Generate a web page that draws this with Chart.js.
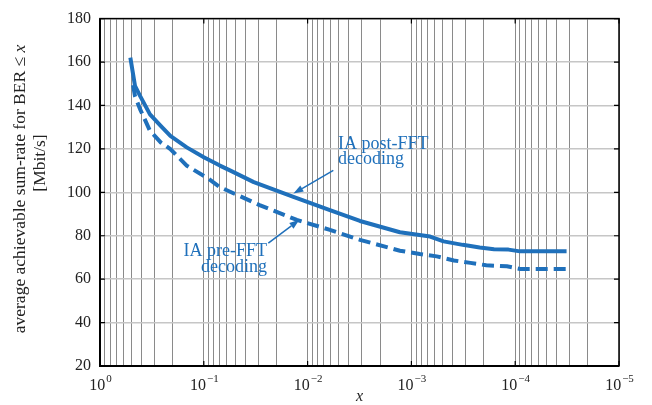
<!DOCTYPE html>
<html><head><meta charset="utf-8">
<script src="https://cdn.jsdelivr.net/npm/chart.js@4/dist/chart.umd.min.js"></script>
<style>html,body{margin:0;padding:0;background:#fff}#wrap{width:652px;height:405px}</style>
</head><body><div id="wrap"><canvas id="c" width="652" height="405"></canvas></div>
<script>
// ---- data ----
const postX = [0.51, 0.46, 0.41, 0.33, 0.26, 0.21, 0.146, 0.1, 0.07, 0.056, 0.033, 0.0137, 0.0061, 0.00313, 0.00129, 6.6e-4, 4.9e-4, 3.2e-4, 2.2e-4, 1.6e-4, 1.16e-4, 9e-5, 3.2e-5];
const postY = [162, 149, 144.3, 135.9, 130.6, 126, 120.7, 116.1, 112.3, 110.1, 104.7, 97.9, 91.8, 86.8, 81.6, 79.6, 77.4, 75.8, 74.6, 73.8, 73.6, 72.8, 72.8];
const preX = [0.48, 0.46, 0.41, 0.33, 0.26, 0.21, 0.146, 0.09, 0.07, 0.029, 0.0127, 0.0061, 0.00313, 0.00129, 8.3e-4, 5.7e-4, 3.9e-4, 2.7e-4, 1.9e-4, 1.2e-4, 9e-5, 3.2e-5];
const preY = [149.4, 144.3, 138.2, 128.3, 123, 119.9, 112.3, 106.2, 102.4, 94.1, 87.3, 82.7, 78.1, 73.1, 71.6, 70.5, 68.6, 67.5, 66.4, 65.9, 64.7, 64.7];
const yTicks = [20, 40, 60, 80, 100, 120, 140, 160, 180];
const xDecades = [1, 0.1, 0.01, 0.001, 1e-4, 1e-5];
const xExponents = ['0', '\u22121', '\u22122', '\u22123', '\u22124', '\u22125'];
const seriesNames = ['IA post-FFT decoding', 'IA pre-FFT decoding'];
const postLabel = ['IA post-FFT', 'decoding'];
const preLabel = ['IA pre-FFT', 'decoding'];
const yTitle1 = 'average achievable sum-rate for BER \u2264 ';
const yTitle2 = '[Mbit/s]';
const xTitle = 'x';
// annotation anchors in data coordinates
const postArrow = {tail: [0.00565, 110.1], tip: [0.0137, 99.4]};
const postText = {x: 0.00509, y: [122.3, 115.2]};
const preArrow = {tail: [0.0239, 76.6], tip: [0.0120, 87.3]};
const preText = {x: 0.0246, y: [72.8, 65.5]};

// minor/major log grid values
const xGrid = [];
for (let e = -5; e <= 0; e++) {
  for (let m = 1; m <= 9; m++) {
    const v = +(m * Math.pow(10, e)).toPrecision(3);
    if (v <= 1) xGrid.push(v);
  }
}

const BLUE = '#1f70bb';
const SERIF = '"Liberation Serif", "DejaVu Serif", serif';
const TFONT = 17.5;

function arrow(ctx, x1, y1, x2, y2) {
  const ang = Math.atan2(y2 - y1, x2 - x1);
  const hl = 10, hw = 3.5;
  const bx = x2 - hl * Math.cos(ang), by = y2 - hl * Math.sin(ang);
  ctx.beginPath(); ctx.moveTo(x1, y1); ctx.lineTo(bx, by); ctx.stroke();
  ctx.beginPath();
  ctx.moveTo(x2, y2);
  ctx.lineTo(bx + hw * Math.sin(ang), by - hw * Math.cos(ang));
  ctx.lineTo(bx - hw * Math.sin(ang), by + hw * Math.cos(ang));
  ctx.closePath(); ctx.fill();
}

const decor = {
  id: 'decor',
  afterDraw(chart) {
    const ctx = chart.ctx, a = chart.chartArea;
    const xs = chart.scales.x, ys = chart.scales.y;
    ctx.save();
    // frame
    ctx.strokeStyle = '#000'; ctx.lineWidth = 1.5;
    ctx.strokeRect(a.left, a.top, a.right - a.left, a.bottom - a.top);
    ctx.lineWidth = 2;
    ctx.beginPath(); ctx.moveTo(a.left, a.top); ctx.lineTo(a.left, a.bottom); ctx.lineTo(a.right, a.bottom); ctx.stroke();
    // inward tick marks
    ctx.lineWidth = 1.2;
    yTicks.forEach(v => {
      const py = ys.getPixelForValue(v);
      ctx.beginPath(); ctx.moveTo(a.left, py); ctx.lineTo(a.left + 5, py);
      ctx.moveTo(a.right, py); ctx.lineTo(a.right - 5, py); ctx.stroke();
    });
    xDecades.forEach(v => {
      const px = xs.getPixelForValue(v);
      ctx.beginPath(); ctx.moveTo(px, a.bottom); ctx.lineTo(px, a.bottom - 5);
      ctx.moveTo(px, a.top); ctx.lineTo(px, a.top + 5); ctx.stroke();
    });
    // x tick labels 10^n
    ctx.fillStyle = '#222'; ctx.textBaseline = 'alphabetic';
    xDecades.forEach((v, i) => {
      const px = xs.getPixelForValue(v);
      ctx.font = '16px ' + SERIF;
      const w1 = ctx.measureText('10').width;
      ctx.font = '11px ' + SERIF;
      const w2 = ctx.measureText(xExponents[i]).width;
      const x0 = px - (w1 + w2) / 2;
      ctx.textAlign = 'left';
      ctx.font = '16px ' + SERIF;
      ctx.fillText('10', x0, a.bottom + 24);
      ctx.font = '11px ' + SERIF;
      ctx.fillText(xExponents[i], x0 + w1 + 1, a.bottom + 16);
    });
    // x title
    ctx.font = 'italic 16px ' + SERIF; ctx.textAlign = 'center';
    ctx.fillText(xTitle, (a.left + a.right) / 2, a.bottom + 35);

    // y title (two lines, rotated)
    ctx.textBaseline = 'middle'; ctx.textAlign = 'left';
    ctx.font = TFONT + 'px ' + SERIF;
    const t1 = ctx.measureText(yTitle1).width;
    ctx.font = 'italic ' + TFONT + 'px ' + SERIF;
    const t2 = ctx.measureText('x').width;
    ctx.save();
    ctx.translate(20, 189); ctx.rotate(-Math.PI / 2);
    ctx.font = TFONT + 'px ' + SERIF;
    ctx.fillText(yTitle1, -(t1 + t2) / 2, 0);
    ctx.font = 'italic ' + TFONT + 'px ' + SERIF;
    ctx.fillText('x', -(t1 + t2) / 2 + t1, 0);
    ctx.restore();
    ctx.save();
    ctx.translate(40, 163); ctx.rotate(-Math.PI / 2);
    ctx.font = TFONT + 'px ' + SERIF; ctx.textAlign = 'center';
    ctx.fillText(yTitle2, 0, 0);
    ctx.restore();

    // annotations
    ctx.fillStyle = BLUE; ctx.strokeStyle = BLUE; ctx.lineWidth = 1.5;
    ctx.font = '18px ' + SERIF; ctx.textBaseline = 'middle';
    ctx.textAlign = 'left';
    postLabel.forEach((t, i) => ctx.fillText(t, xs.getPixelForValue(postText.x), ys.getPixelForValue(postText.y[i])));
    ctx.textAlign = 'right';
    preLabel.forEach((t, i) => ctx.fillText(t, xs.getPixelForValue(preText.x), ys.getPixelForValue(preText.y[i])));
    arrow(ctx, xs.getPixelForValue(postArrow.tail[0]), ys.getPixelForValue(postArrow.tail[1]),
               xs.getPixelForValue(postArrow.tip[0]), ys.getPixelForValue(postArrow.tip[1]));
    arrow(ctx, xs.getPixelForValue(preArrow.tail[0]), ys.getPixelForValue(preArrow.tail[1]),
               xs.getPixelForValue(preArrow.tip[0]), ys.getPixelForValue(preArrow.tip[1]));
    ctx.restore();
  }
};

new Chart(document.getElementById('c'), {
  type: 'line',
  data: {
    datasets: [
      {label: seriesNames[0], data: postX.map((x, i) => ({x, y: postY[i]})), borderColor: BLUE, borderWidth: 4, pointRadius: 0, tension: 0, fill: false, borderJoinStyle: 'round'},
      {label: seriesNames[1], data: preX.map((x, i) => ({x, y: preY[i]})), borderColor: BLUE, borderWidth: 4, borderDash: [12, 6], pointRadius: 0, tension: 0, fill: false}
    ]
  },
  options: {
    responsive: false, devicePixelRatio: 1, animation: false,
    layout: {padding: {left: 0, right: 33, top: 15, bottom: 0}},
    plugins: {legend: {display: false}, tooltip: {enabled: false}},
    scales: {
      x: {
        type: 'logarithmic', reverse: true, min: 1e-5, max: 1,
        afterBuildTicks: s => { s.ticks = xGrid.map(v => ({value: v})); },
        afterFit: s => { s.height = 39; },
        grid: {color: '#8a8a8a', lineWidth: 1, drawTicks: false},
        border: {display: false},
        ticks: {display: false}
      },
      y: {
        min: 20, max: 180,
        afterBuildTicks: s => { s.ticks = yTicks.map(v => ({value: v})); },
        afterFit: s => { s.width = 100; },
        grid: {color: '#c6c6c6', lineWidth: 1.5, drawTicks: false},
        border: {display: false},
        ticks: {font: {family: SERIF, size: 16}, color: '#222', padding: 9}
      }
    }
  },
  plugins: [decor]
});
</script>
</body></html>
